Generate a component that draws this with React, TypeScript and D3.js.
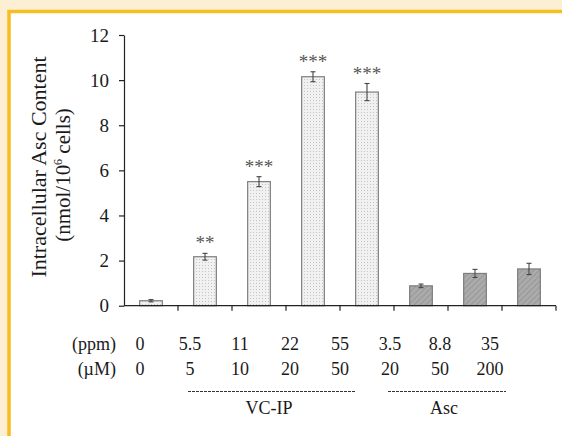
import React, { useEffect, useRef } from 'react'
import * as d3 from 'd3'

// bar values
const groups = ['ctrl', 'vc1', 'vc2', 'vc3', 'vc4', 'asc1', 'asc2', 'asc3']
const means = [0.22, 2.17, 5.5, 10.15, 9.47, 0.88, 1.43, 1.63]
const errors = [0.05, 0.15, 0.22, 0.22, 0.38, 0.08, 0.18, 0.25]
const stars = ['', '**', '***', '***', '***', '', '', '']
const kinds = ['dot', 'dot', 'dot', 'dot', 'dot', 'hatch', 'hatch', 'hatch']

const ppmLabels = ['0', '5.5', '11', '22', '55', '3.5', '8.8', '35']
const uMLabels = ['0', '5', '10', '20', '50', '20', '50', '200']
const treatments = [
  { name: 'VC-IP', from: 1, to: 4 },
  { name: 'Asc', from: 5, to: 7 },
]
const yTicks = [0, 2, 4, 6, 8, 10, 12]

const W = 562, H = 436
const serif = '"Liberation Serif", "DejaVu Serif", serif'

function App() {
  const ref = useRef<SVGSVGElement>(null)

  useEffect(() => {
    const svg = d3.select(ref.current)
    svg.selectAll('*').remove()

    const x = d3.scaleBand().domain(groups).range([124, 556]).paddingInner(0).paddingOuter(0)
    const y = d3.scaleLinear().domain([0, 12]).range([305.7, 35])
    const xl = d3.scalePoint().domain(groups).range([140, 490])

    // frame
    svg.append('rect').attr('width', W).attr('height', H).attr('fill', '#fcefd3')
    svg.append('rect').attr('x', 9).attr('y', 11.5).attr('width', W).attr('height', H)
      .attr('fill', '#fff').attr('stroke', '#f6be22').attr('stroke-width', 3.5)

    // patterns
    const defs = svg.append('defs')
    const dot = defs.append('pattern').attr('id', 'dot').attr('patternUnits', 'userSpaceOnUse')
      .attr('width', 3).attr('height', 3)
    dot.append('rect').attr('width', 3).attr('height', 3).attr('fill', '#f1f1f1')
    dot.append('rect').attr('x', 1).attr('y', 1).attr('width', 1).attr('height', 1).attr('fill', '#c4c4c4')

    const hatch = defs.append('pattern').attr('id', 'hatch').attr('patternUnits', 'userSpaceOnUse')
      .attr('width', 4).attr('height', 4).attr('patternTransform', 'rotate(45)')
    hatch.append('rect').attr('width', 4).attr('height', 4).attr('fill', '#ababab')
    hatch.append('line').attr('x1', 0).attr('y1', 0).attr('x2', 0).attr('y2', 4)
      .attr('stroke', '#8e8e8e').attr('stroke-width', 1.4)

    const bw = x.bandwidth() * 0.42
    const cx = (i: number) => (x(groups[i]) as number) + x.bandwidth() / 2

    // bars
    svg.append('g').selectAll('rect').data(means).join('rect')
      .attr('x', (d, i) => cx(i) - bw / 2)
      .attr('y', d => y(d))
      .attr('width', bw)
      .attr('height', d => y(0) - y(d))
      .attr('fill', (d, i) => `url(#${kinds[i]})`)
      .attr('stroke', '#7d7d7d').attr('stroke-width', 1.2)

    // error bars
    const eb = svg.append('g').attr('stroke', '#444').attr('stroke-width', 1.1)
    means.forEach((m, i) => {
      const c = cx(i)
      eb.append('line').attr('x1', c).attr('x2', c).attr('y1', y(m - errors[i])).attr('y2', y(m + errors[i]))
      eb.append('line').attr('x1', c - 2.5).attr('x2', c + 2.5).attr('y1', y(m + errors[i])).attr('y2', y(m + errors[i]))
      eb.append('line').attr('x1', c - 2.5).attr('x2', c + 2.5).attr('y1', y(m - errors[i])).attr('y2', y(m - errors[i]))
    })

    // significance
    svg.append('g').selectAll('text').data(stars).join('text')
      .attr('x', (d, i) => cx(i))
      .attr('y', (d, i) => y(means[i] + errors[i]) - 4)
      .attr('text-anchor', 'middle')
      .attr('font-family', serif).attr('font-size', 19).attr('fill', '#555')
      .text(d => d)

    // y axis
    const yAxis = svg.append('g').attr('transform', 'translate(124,0)')
      .call(d3.axisLeft(y).tickValues(yTicks).tickSize(5).tickSizeOuter(0).tickPadding(10))
    yAxis.selectAll('path, line').attr('stroke', '#222').attr('stroke-width', 1.2)
    yAxis.selectAll('text').attr('font-family', serif).attr('font-size', 19).attr('fill', '#1a1a1a')

    // x axis
    const xAxis = svg.append('g').attr('transform', `translate(0,${y(0)})`)
    xAxis.append('line').attr('x1', 124).attr('x2', 556).attr('stroke', '#222').attr('stroke-width', 1.2)
    xAxis.selectAll('.tk').data(groups).join('line').attr('class', 'tk')
      .attr('x1', d => (x(d) as number) + x.bandwidth()).attr('x2', d => (x(d) as number) + x.bandwidth())
      .attr('y1', 0).attr('y2', 5)
      .attr('stroke', '#222').attr('stroke-width', 1.2)

    // concentration rows
    const rows = [
      { unit: '(ppm)', labels: ppmLabels, base: 350 },
      { unit: '(\u00b5M)', labels: uMLabels, base: 375 },
    ]
    rows.forEach(r => {
      svg.append('text').attr('x', 116).attr('y', r.base).attr('text-anchor', 'end')
        .attr('font-family', serif).attr('font-size', 18).attr('fill', '#1a1a1a').text(r.unit)
      svg.append('g').selectAll('text').data(r.labels).join('text')
        .attr('x', (d, i) => xl(groups[i]) as number)
        .attr('y', r.base)
        .attr('text-anchor', 'middle')
        .attr('font-family', serif).attr('font-size', 18).attr('fill', '#1a1a1a')
        .text(d => d)
    })

    // treatment brackets
    treatments.forEach(t => {
      const a = (xl(groups[t.from]) as number) - 2
      const b = (xl(groups[t.to]) as number) + 16
      svg.append('line').attr('x1', a).attr('x2', b).attr('y1', 391.5).attr('y2', 391.5)
        .attr('stroke', '#333').attr('stroke-width', 1).attr('stroke-dasharray', '3,1')
      const mid = d3.mean(d3.range(t.from, t.to + 1), i => xl(groups[i]) as number) as number
      svg.append('text').attr('x', mid + 4).attr('y', 414).attr('text-anchor', 'middle')
        .attr('font-family', serif).attr('font-size', 18).attr('fill', '#1a1a1a').text(t.name)
    })

    // y title
    const title = svg.append('g').attr('transform', 'translate(0,167) rotate(-90)')
      .attr('font-family', serif).attr('fill', '#1a1a1a').attr('text-anchor', 'middle')
    title.append('text').attr('x', 0).attr('y', 46).attr('font-size', 22).text('Intracellular Asc Content')
    const t2 = title.append('text').attr('x', -8).attr('y', 70).attr('font-size', 21)
    t2.append('tspan').text('(nmol/10')
    t2.append('tspan').attr('font-size', 12).attr('dy', -8).text('6')
    t2.append('tspan').attr('dy', 8).text(' cells)')
  })

  return (
    <svg ref={ref} width={W} height={H} style={{ position: 'absolute', left: 0, top: 0 }}></svg>
  )
}

export default App
